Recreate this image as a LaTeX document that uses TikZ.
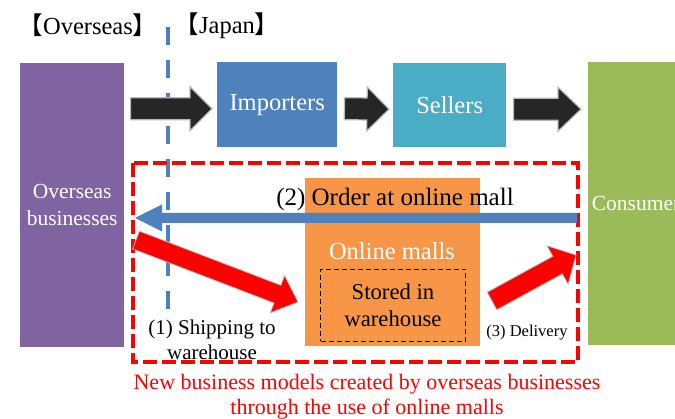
\documentclass[tikz,border=0pt]{standalone}
\usepackage{fontspec}
\setmainfont{Liberation Serif}
\newfontfamily\cjk{Noto Sans CJK JP}
\usetikzlibrary{calc}
\definecolor{violetbox}{HTML}{8064A2}
\definecolor{bleubox}{HTML}{4F81BD}
\definecolor{cyanbox}{HTML}{4BACC6}
\definecolor{vertbox}{HTML}{9BBB59}
\definecolor{orangebox}{HTML}{F79646}
\definecolor{noirfleche}{HTML}{262626}
\newcommand{\tA}{\fontsize{24.5pt}{28pt}\selectfont}
\newcommand{\tB}{\fontsize{21.5pt}{27pt}\selectfont}
\newcommand{\tC}{\fontsize{22pt}{25pt}\selectfont}
\newcommand{\tD}{\fontsize{16.5pt}{19pt}\selectfont}
\tikzstyle{boite}=[anchor=north west, inner sep=0, text=white, align=center]
\tikzstyle{texte}=[inner sep=0, align=center]
\tikzstyle{bloc}=[fill=noirfleche, draw=gray!55, line width=1.2pt, join=miter]
\tikzstyle{blocrouge}=[fill=red, draw=gray!50, line width=0.8pt, join=miter]
\tikzstyle{blocbleu}=[fill=bleubox]
\tikzstyle{cadre}=[draw=red, line width=4pt, dash pattern=on 14pt off 5pt]
\tikzstyle{frontiere}=[draw=bleubox, line width=4pt, dash pattern=on 18pt off 15pt]
% #1 style, #2 depart, #3 pointe, #4 demi-corps, #5 demi-tete, #6 longueur tete
\newcommand{\fleche}[6]{
  \coordinate (fb) at ($(#3)!#6!(#2)$);
  \path[#1] ($(#2)!#4!90:(#3)$) -- ($(fb)!#4!-90:(#2)$) -- ($(fb)!#5!-90:(#2)$)
    -- (#3) -- ($(fb)!#5!90:(#2)$) -- ($(fb)!#4!90:(#2)$) -- ($(#2)!#4!-90:(#3)$) -- cycle;
}

\begin{document}
\begin{tikzpicture}[x=1pt,y=-1pt]
\useasboundingbox (0,0) rectangle (675,419);
\clip (0,0) rectangle (675,419);

%frontiere
\draw[frontiere] (167.5,27) -- (167.5,310);
\node[texte,anchor=base,font=\tA] (tOutre) at (88,35) {{\cjk 【}Overseas{\cjk 】}};
\node[texte,anchor=base,font=\tA] (tJapon) at (227,34) {{\cjk 【}Japan{\cjk 】}};

%cadre
\draw[cadre] (133,163) rectangle (578,362);

%boites
\node[boite,font=\tB,fill=violetbox,minimum width=104,minimum height=284] (outremer) at (20,63) {Overseas\\businesses};
\node[boite,font=\tA,fill=bleubox,minimum width=120,minimum height=85] (importateurs) at (217,62) {Importers};
\node[boite,font=\tA,fill=cyanbox,minimum width=113,minimum height=84] (vendeurs) at (393,63) {Sellers};
\node[boite,font=\tB,fill=vertbox,minimum width=104,minimum height=283] (conso) at (588,62) {Consumers};
\node[boite,fill=orangebox,minimum width=175,minimum height=168] (malls) at (305,178) {};
\node[texte,anchor=base,text=white,font=\tA] (tMalls) at (392,260) {Online malls};
\node[boite,text=black,draw,line width=1pt,dash pattern=on 5pt off 3pt,minimum width=145,minimum height=72,
  font=\fontsize{22.7pt}{27pt}\selectfont] (entrepot) at (320,269) {Stored in\\warehouse};

%fleches noires
\coordinate (a1) at ($(outremer.east |- importateurs.west)+(6,4)$);
\coordinate (b1) at ($(importateurs.west)+(-5,4)$);
\coordinate (a2) at ($(importateurs.east)+(7,4)$);
\coordinate (b2) at ($(vendeurs.west)+(-4,4)$);
\coordinate (a3) at ($(vendeurs.east)+(7,4)$);
\coordinate (b3) at ($(conso.west |- vendeurs.west)+(-7,4)$);
\fleche{bloc}{a1}{b1}{11pt}{22pt}{22pt}
\fleche{bloc}{a2}{b2}{11pt}{22pt}{22pt}
\fleche{bloc}{a3}{b3}{11pt}{22pt}{23pt}

%commande
\coordinate (c1) at (577,218);
\coordinate (c2) at (135,218);
\fleche{blocbleu}{c1}{c2}{5pt}{13.5pt}{27pt}
\node[texte,anchor=base,font=\fontsize{25pt}{28pt}\selectfont] (tCommande) at (395,206) {(2) Order at online mall};

%expedition et livraison
\coordinate (s1) at (136,240);
\coordinate (t1) at (298,302);
\fleche{blocrouge}{s1}{t1}{9.5pt}{20pt}{22pt}
\coordinate (s3) at (492,301);
\coordinate (t3) at (576,255);
\fleche{blocrouge}{s3}{t3}{10pt}{22pt}{21pt}
\node[texte,font=\fontsize{21pt}{25pt}\selectfont] (tExpedition) at (212,340) {(1) Shipping to\\warehouse};
\node[texte,anchor=base,font=\tD] (tLivraison) at (527,337) {(3) Delivery};

%legende
\node[texte,text=red,font=\tC] (legende) at (367,397) {New business models created by overseas businesses\\through the use of online malls};
\end{tikzpicture}
\end{document}
